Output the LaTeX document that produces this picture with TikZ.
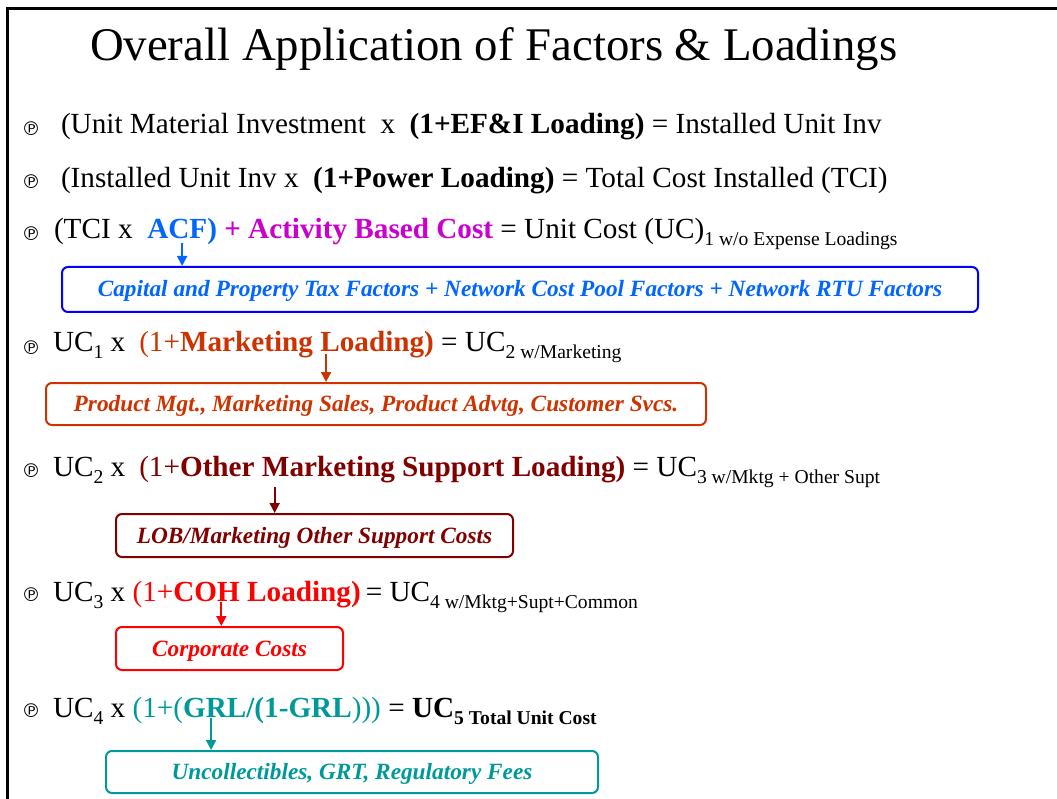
\documentclass[tikz,border=0pt]{standalone}
\usepackage{fontspec}
\setmainfont{Liberation Serif}
\newfontfamily\bulletfont{DejaVu Sans}
\usetikzlibrary{arrows.meta}

\newcommand\setsize[1]{\fontsize{#1pt}{#1pt}\selectfont}
\newcommand\lowsub[1]{\raisebox{-7pt}{\setsize{19.6}#1}}

\definecolor{acfblue}{RGB}{0,102,255}
\definecolor{boxblue}{RGB}{0,0,255}
\definecolor{abcmag}{RGB}{204,0,204}
\definecolor{mktorange}{RGB}{204,51,0}
\definecolor{supred}{RGB}{128,0,0}
\definecolor{cohred}{RGB}{255,0,0}
\definecolor{grlteal}{RGB}{0,153,153}

\begin{document}
\begin{tikzpicture}[x=1pt,y=-1pt,
  txt/.style={inner sep=0pt, outer sep=0pt, anchor=base west, font=\setsize{29.2}},
  bul/.style={inner sep=0pt, font=\bulletfont\setsize{19}},
  costbox/.style={draw=#1, line width=2pt, rounded corners=6pt, inner sep=0pt,
    text height=18pt, text depth=3pt, font=\setsize{23.3}\bfseries\itshape},
  feed/.style={-{Triangle[length=10pt,width=10pt]}, line width=1.8pt},
]
\useasboundingbox (0,0) rectangle (1057,799);

% slide frame (top and left edges)
\draw[line width=2.5pt] (7.5,810) -- (7.5,8.5) -- (1070,8.5);

% title
\node[txt, font=\setsize{46.8}] (title) at (90,61) {Overall Application of Factors \& Loadings};

% line 1
\node[bul] (p1) at (31,129) {℗};
\node[txt] (l1) at (61,134) {(Unit Material Investment~~x~~\textbf{(1+EF\&I Loading)} = Installed Unit Inv};

% line 2
\node[bul] (p2) at (31,182) {℗};
\node[txt] (l2) at (61,188) {(Installed Unit Inv x~~\textbf{(1+Power Loading)} = Total Cost Installed (TCI)};

% line 3
\node[bul] (p3) at (31,234) {℗};
\node[txt] (l3a) at (54,239) {(TCI x~~\hspace{5pt}};
\node[txt, text=acfblue, font=\setsize{29.2}\bfseries] (acf) at (l3a.base east) {ACF)};
\node[txt, text=abcmag, font=\setsize{29.2}\bfseries] (abc) at (acf.base east) {\ + Activity Based Cost};
\node[txt] (l3b) at (abc.base east) {\ = Unit Cost (UC)\lowsub{1\ w/o Expense Loadings}};

\node[costbox=boxblue, text=acfblue, minimum width=916pt, minimum height=45pt] (cb1) at (520,289.5)
  {Capital and Property Tax Factors + Network Cost Pool Factors + Network RTU Factors};
\draw[feed, acfblue] ([yshift=-4pt]acf.base) -- (acf.base |- cb1.north);

% line 4
\node[bul] (p4) at (31,348) {℗};
\node[txt] (l4a) at (53,352) {UC\lowsub{1} x};
\node[txt, text=mktorange] (l4b) at (l4a.base east) {\hspace{14pt}(1+\textbf{Marketing}};
\node[txt, text=mktorange, font=\setsize{29.2}\bfseries] (mload) at (l4b.base east) {\ Loading)};
\node[txt] (l4c) at (mload.base east) {\ = UC\lowsub{2\ w/Marketing}};

\node[costbox=mktorange, text=mktorange, minimum width=660pt, minimum height=42pt] (cb2) at (376,404)
  {Product Mgt., Marketing Sales, Product Advtg, Customer Svcs.};
\draw[feed, mktorange] ([xshift=13pt,yshift=-2pt]mload.base west) -- ([xshift=13pt]mload.base west |- cb2.north);

% line 5
\node[bul] (p5) at (31,471) {℗};
\node[txt] (l5a) at (53,476) {UC\lowsub{2} x};
\node[txt, text=supred] (l5b) at (l5a.base east) {\hspace{14pt}(1+\textbf{Other}};
\node[txt, text=supred, font=\setsize{29.2}\bfseries] (osl) at (l5b.base east) {\ Marketing Support Loading)};
\node[txt] (l5c) at (osl.base east) {\ = UC\lowsub{3\ w/Mktg + Other Supt}};

\node[costbox=supred, text=supred, minimum width=397pt, minimum height=43pt] (cb3) at (314.5,535.5)
  {LOB/Marketing Other Support Costs};
\draw[feed, supred] ([xshift=20pt,yshift=-11pt]osl.base west) -- ([xshift=20pt]osl.base west |- cb3.north);

% line 6
\node[bul] (p6) at (31,595) {℗};
\node[txt] (l6a) at (53,601) {UC\lowsub{3} x};
\node[txt, text=cohred] (l6b) at (l6a.base east) {\ (1+};
\node[txt, text=cohred, font=\setsize{29.2}\bfseries] (coh) at (l6b.base east) {COH Loading)};
\node[txt] (l6c) at (coh.base east) {\hspace{5pt}= UC\lowsub{4 w/Mktg+Supt+Common}};

\node[costbox=cohred, text=cohred, minimum width=227pt, minimum height=43pt] (cb4) at (229.5,648.5)
  {Corporate Costs};
\draw[feed, cohred] ([xshift=48pt,yshift=-1pt]coh.base west) -- ([xshift=48pt]coh.base west |- cb4.north);

% line 7
\node[bul] (p7) at (31,711) {℗};
\node[txt] (l7a) at (53,717) {UC\lowsub{4} x};
\node[txt, text=grlteal] (l7b) at (l7a.base east) {\ (1+(};
\node[txt, text=grlteal, font=\setsize{29.2}\bfseries] (grl) at (l7b.base east) {GRL/(1-GRL};
\node[txt, text=grlteal] (l7c) at (grl.base east) {)))};
\node[txt] (l7d) at (l7c.base east) {\ = \textbf{UC\lowsub{5 Total Unit Cost}}};

\node[costbox=grlteal, text=grlteal, minimum width=492pt, minimum height=42pt] (cb5) at (352,772)
  {Uncollectibles, GRT, Regulatory Fees};
\draw[feed, grlteal] ([xshift=28pt,yshift=-1pt]grl.base west) -- ([xshift=28pt]grl.base west |- cb5.north);
\end{tikzpicture}
\end{document}
